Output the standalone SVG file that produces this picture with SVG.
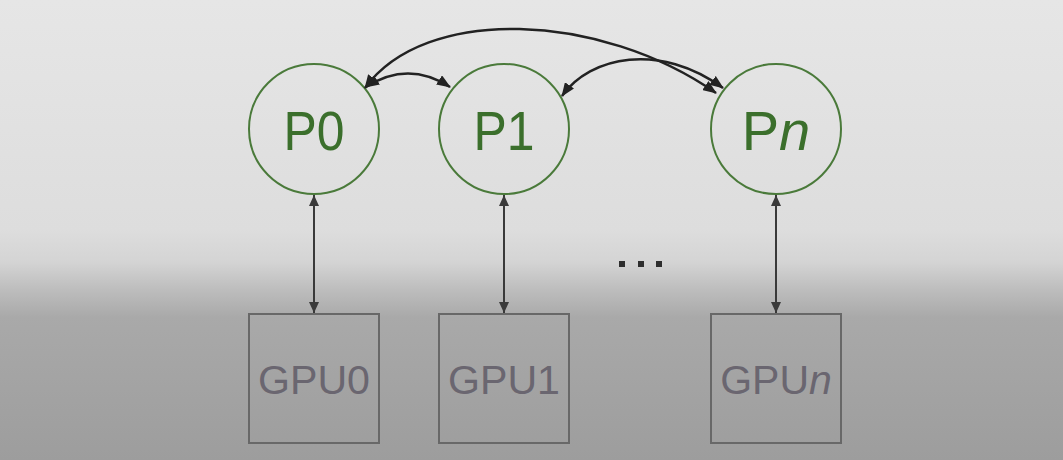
<svg xmlns="http://www.w3.org/2000/svg" width="1063" height="460" viewBox="0 0 1063 460">
<defs>
<linearGradient id="bg" x1="0" y1="0" x2="0" y2="1">
<stop offset="0" stop-color="#e6e6e6"/>
<stop offset="0.5" stop-color="#dddddd"/>
<stop offset="0.57" stop-color="#d4d4d4"/>
<stop offset="0.63" stop-color="#bdbdbd"/>
<stop offset="0.69" stop-color="#a9a9a9"/>
<stop offset="1" stop-color="#9d9d9d"/>
</linearGradient>
<marker id="ah" viewBox="0 0 14 11" refX="13" refY="5.5" markerWidth="14" markerHeight="11" markerUnits="userSpaceOnUse" orient="auto-start-reverse">
<path d="M0,0 L14,5.5 L0,11 z" fill="#222222"/>
</marker>
<marker id="av" viewBox="0 0 11 10" refX="11" refY="5" markerWidth="11" markerHeight="10" markerUnits="userSpaceOnUse" orient="auto-start-reverse">
<path d="M0,0 L11,5 L0,10 z" fill="#3a3a3a"/>
</marker>
<style>
.proc{fill:none;stroke:#4a7a3a;stroke-width:2}
.ptxt{font-family:"Liberation Sans",Arial,sans-serif;font-size:56px;fill:#3b6f2c;text-anchor:middle}
.gpu{fill:none;stroke:#686868;stroke-width:2}
.gtxt{font-family:"Liberation Sans",Arial,sans-serif;font-size:41px;fill:#6a6670;text-anchor:middle}
.curve{fill:none;stroke:#222222;stroke-width:2.5;marker-start:url(#ah);marker-end:url(#ah)}
.vert{fill:none;stroke:#3a3a3a;stroke-width:2;marker-start:url(#av);marker-end:url(#av)}
</style>
</defs>
<rect x="0" y="0" width="1063" height="460" fill="url(#bg)"/>
<g id="P0"><circle class="proc" cx="314" cy="129" r="65"/><text class="ptxt" x="314" y="150" textLength="61" lengthAdjust="spacingAndGlyphs">P0</text></g>
<g id="P1"><circle class="proc" cx="504" cy="129" r="65"/><text class="ptxt" x="504" y="150" textLength="61" lengthAdjust="spacingAndGlyphs">P1</text></g>
<g id="Pn"><circle class="proc" cx="776" cy="129" r="65"/><text class="ptxt" x="776" y="150" font-size="54">P<tspan font-style="italic">n</tspan></text></g>
<g id="GPU0"><rect class="gpu" x="249" y="314" width="130" height="129"/><text class="gtxt" x="314" y="394" textLength="112" lengthAdjust="spacingAndGlyphs">GPU0</text></g>
<g id="GPU1"><rect class="gpu" x="439" y="314" width="130" height="129"/><text class="gtxt" x="504" y="394" textLength="112" lengthAdjust="spacingAndGlyphs">GPU1</text></g>
<g id="GPUn"><rect class="gpu" x="711" y="314" width="130" height="129"/><text class="gtxt" x="776" y="394" font-size="40">GPU<tspan font-style="italic">n</tspan></text></g>
<g id="ellipsis" fill="#2e2e2e">
<rect x="619" y="261" width="6" height="6"/>
<rect x="638" y="261" width="6" height="6"/>
<rect x="656" y="261" width="6" height="6"/>
</g>
<g id="connectors">
<path class="curve" d="M366 87 Q408 60 450 87"/>
<path class="curve" d="M365 88 C425 5 600 12 716 93"/>
<path class="curve" d="M562 96 C590 56 660 42 723 88"/>
<path class="vert" d="M314 195 V313"/>
<path class="vert" d="M504 195 V313"/>
<path class="vert" d="M776 195 V313"/>
</g>
</svg>
